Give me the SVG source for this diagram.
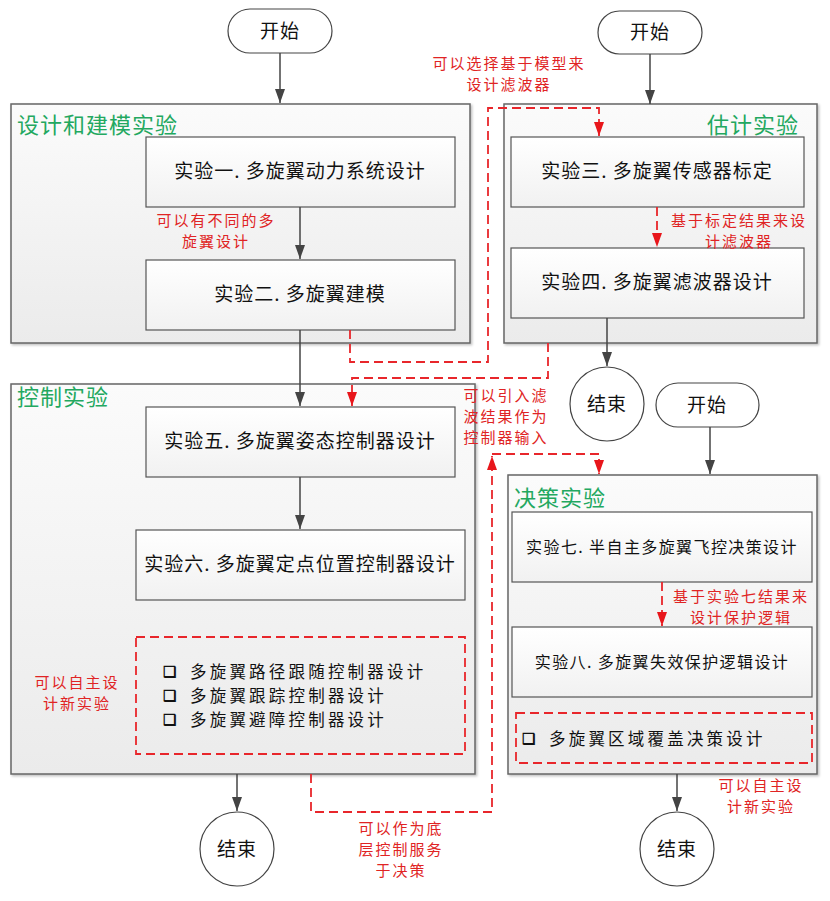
<svg xmlns="http://www.w3.org/2000/svg" width="830" height="901" viewBox="0 0 830 901">
<defs>
<linearGradient id="gGroup" x1="0" y1="0" x2="0" y2="1">
<stop offset="0" stop-color="#fbfbfb"/><stop offset="1" stop-color="#ebebeb"/>
</linearGradient>
<linearGradient id="gBox" x1="0" y1="0" x2="0" y2="1">
<stop offset="0" stop-color="#ffffff"/><stop offset="1" stop-color="#f1f1f1"/>
</linearGradient>
<filter id="sh" x="-5%" y="-5%" width="110%" height="110%">
<feDropShadow dx="1.5" dy="1.5" stdDeviation="1.2" flood-color="#000" flood-opacity="0.25"/>
</filter>
<marker id="ak" viewBox="0 0 14 10" refX="14" refY="5" markerWidth="14" markerHeight="10" markerUnits="userSpaceOnUse" orient="auto">
<path d="M0,0 L14,5 L0,10 z" fill="#444"/>
</marker>
<marker id="ar" viewBox="0 0 14 10" refX="14" refY="5" markerWidth="14" markerHeight="10" markerUnits="userSpaceOnUse" orient="auto">
<path d="M0,0 L14,5 L0,10 z" fill="#e8161b"/>
</marker>
<style>
text{font-family:"Noto Sans CJK SC","Noto Sans",sans-serif;}
.grp{fill:url(#gGroup);stroke:#666;stroke-width:1.5;filter:url(#sh);}
.box{fill:url(#gBox);stroke:#555;stroke-width:1.2;}
.term{fill:#fff;stroke:#444;stroke-width:1.2;}
.ttl{fill:#23a860;font-size:22px;letter-spacing:1px;}
.lbl{fill:#111;font-size:19px;text-anchor:middle;letter-spacing:1px;}
.lbls{fill:#111;font-size:16px;text-anchor:middle;letter-spacing:1.4px;}
.item{fill:#111;font-size:16.5px;letter-spacing:3.2px;}
.chk{fill:#111;font-size:15px;font-weight:bold;}
.note{fill:#e02424;font-size:15px;text-anchor:middle;letter-spacing:2px;}
.dbox{fill:none;stroke:#e8262b;stroke-width:1.8;stroke-dasharray:9,5;}
.blk{fill:none;stroke:#444;stroke-width:1.5;marker-end:url(#ak);}
.red{fill:none;stroke:#e8262b;stroke-width:1.8;stroke-dasharray:9,5;marker-end:url(#ar);}
</style>
</defs>
<rect width="830" height="901" fill="#fff"/>

<g id="group-design">
<rect class="grp" x="11" y="104" width="459" height="239"/>
<text class="ttl" x="17" y="133">设计和建模实验</text>
</g>
<g id="group-estimate">
<rect class="grp" x="504" y="104" width="313" height="239"/>
<text class="ttl" x="799" y="133" text-anchor="end">估计实验</text>
</g>
<g id="group-control">
<rect class="grp" x="11" y="384" width="464" height="390"/>
<text class="ttl" x="17" y="405">控制实验</text>
</g>
<g id="group-decision">
<rect class="grp" x="508" y="475" width="309" height="299"/>
<text class="ttl" x="514" y="506">决策实验</text>
</g>

<g id="start1"><rect class="term" x="228" y="9" width="104" height="44" rx="22"/><text class="lbl" x="280" y="38">开始</text></g>
<g id="start2"><rect class="term" x="598" y="11" width="104" height="43" rx="21.5"/><text class="lbl" x="650" y="39">开始</text></g>
<g id="start3"><rect class="term" x="656" y="383" width="103" height="44" rx="22"/><text class="lbl" x="707" y="412">开始</text></g>

<g id="exp1"><rect class="box" x="146" y="137" width="309" height="70"/><text class="lbl" x="300" y="178">实验一. 多旋翼动力系统设计</text></g>
<g id="exp2"><rect class="box" x="146" y="260" width="309" height="70"/><text class="lbl" x="300" y="301">实验二. 多旋翼建模</text></g>
<g id="exp3"><rect class="box" x="511" y="137" width="293" height="70"/><text class="lbl" x="657" y="178">实验三. 多旋翼传感器标定</text></g>
<g id="exp4"><rect class="box" x="511" y="248" width="293" height="70"/><text class="lbl" x="657" y="289">实验四. 多旋翼滤波器设计</text></g>
<g id="exp5"><rect class="box" x="146" y="407" width="309" height="70"/><text class="lbl" x="300" y="448">实验五. 多旋翼姿态控制器设计</text></g>
<g id="exp6"><rect class="box" x="136" y="530" width="329" height="70"/><text class="lbl" x="300" y="571">实验六. 多旋翼定点位置控制器设计</text></g>
<g id="exp7"><rect class="box" x="512" y="512" width="300" height="70"/><text class="lbls" x="662" y="553">实验七. 半自主多旋翼飞控决策设计</text></g>
<g id="exp8"><rect class="box" x="512" y="627" width="300" height="70"/><text class="lbls" x="662" y="668">实验八. 多旋翼失效保护逻辑设计</text></g>

<g id="ctrl-extra">
<rect class="dbox" x="136" y="637" width="329" height="117"/>
<text class="chk" x="163" y="677">❑</text>
<text class="item" x="190" y="678">多旋翼路径跟随控制器设计</text>
<text class="chk" x="163" y="701">❑</text>
<text class="item" x="190" y="702">多旋翼跟踪控制器设计</text>
<text class="chk" x="163" y="725">❑</text>
<text class="item" x="190" y="726">多旋翼避障控制器设计</text>
</g>
<g id="dec-extra">
<rect class="dbox" x="516" y="713" width="296" height="50"/>
<text class="chk" x="522" y="744">❑</text>
<text class="item" x="549" y="745">多旋翼区域覆盖决策设计</text>
</g>

<g id="end1"><circle class="term" cx="607" cy="404" r="37"/><text class="lbl" x="607" y="411">结束</text></g>
<g id="end2"><circle class="term" cx="237" cy="849" r="37"/><text class="lbl" x="237" y="856">结束</text></g>
<g id="end3"><circle class="term" cx="677" cy="849" r="37"/><text class="lbl" x="677" y="856">结束</text></g>

<g id="connectors">
<path class="blk" d="M280,53 V103"/>
<path class="blk" d="M650,54 V104"/>
<path class="blk" d="M300,207 V259"/>
<path class="blk" d="M300,330 V406"/>
<path class="blk" d="M300,477 V529"/>
<path class="blk" d="M607,318 V366"/>
<path class="blk" d="M710,427 V474"/>
<path class="blk" d="M237,774 V811"/>
<path class="blk" d="M677,774 V811"/>
<path class="red" d="M350,330 V362 H488 V108 H599 V136"/>
<path class="red" d="M548,343 V378 H352 V406"/>
<path class="red" d="M311,774 V812 H492 V456"/>
<path class="red" d="M492,454 H599 V474"/>
<path class="red" d="M657,207 V247"/>
<path class="red" d="M662,582 V626"/>
</g>

<g id="notes">
<text class="note" x="216" y="226">可以有不同的多</text>
<text class="note" x="216" y="247">旋翼设计</text>
<text class="note" x="509" y="69">可以选择基于模型来</text>
<text class="note" x="509" y="90">设计滤波器</text>
<text class="note" x="739" y="226">基于标定结果来设</text>
<text class="note" x="739" y="247">计滤波器</text>
<text class="note" x="506" y="401">可以引入滤</text>
<text class="note" x="506" y="422">波结果作为</text>
<text class="note" x="506" y="443">控制器输入</text>
<text class="note" x="741" y="602">基于实验七结果来</text>
<text class="note" x="741" y="623">设计保护逻辑</text>
<text class="note" x="77" y="688">可以自主设</text>
<text class="note" x="77" y="709">计新实验</text>
<text class="note" x="761" y="791">可以自主设</text>
<text class="note" x="761" y="812">计新实验</text>
<text class="note" x="401" y="834">可以作为底</text>
<text class="note" x="401" y="855">层控制服务</text>
<text class="note" x="401" y="876">于决策</text>
</g>
</svg>
